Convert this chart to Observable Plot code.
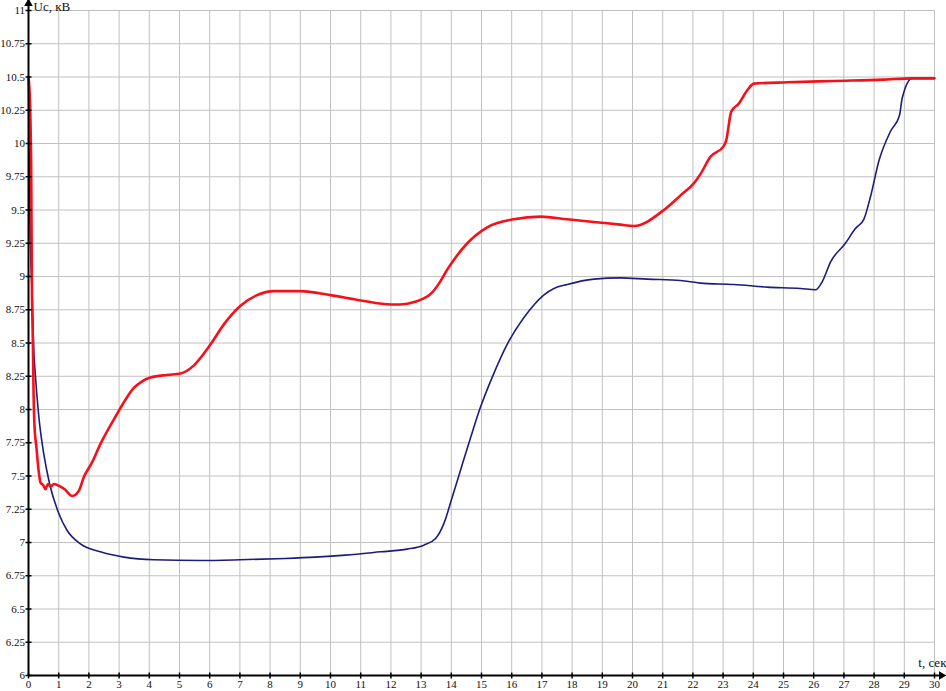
<!DOCTYPE html>
<html>
<head>
<meta charset="utf-8">
<script src="https://cdn.jsdelivr.net/npm/d3@7"></script>
<script src="https://cdn.jsdelivr.net/npm/@observablehq/plot@0.6"></script>
<style>
  html, body { margin: 0; padding: 0; background: #fff; }
  #chart svg { display: block; }
</style>
</head>
<body>
<div id="chart"></div>
<script>
// ---- data ----
const xTicks = d3.range(0, 31, 1);
const yTicks = [6, 6.25, 6.5, 6.75, 7, 7.25, 7.5, 7.75, 8, 8.25, 8.5, 8.75, 9, 9.25, 9.5, 9.75, 10, 10.25, 10.5, 10.75, 11];

const redT = [0, 0.05, 0.09, 0.11, 0.145, 0.17, 0.2, 0.26, 0.34, 0.4, 0.49, 0.56, 0.64, 0.73, 0.84, 1.06, 1.2, 1.45, 1.67, 1.83, 2.1, 2.38, 2.94, 3.2, 3.48, 3.75, 4.04, 4.59, 5.03, 5.47, 6.03, 6.47, 7.02, 7.57, 8.12, 9.0, 10.0, 11.0, 12.0, 12.3, 12.8, 13.37, 13.6, 13.86, 14.1, 14.53, 15.19, 16.07, 16.95, 17.84, 18.72, 19.6, 20.04, 21.04, 21.59, 22.03, 22.25, 22.58, 23.02, 23.1, 23.27, 23.52, 23.8, 24.02, 25.12, 26.66, 28.3, 29.26, 30];
const redU = [10.5, 10.3, 9.77, 9.0, 8.5, 8.1, 7.87, 7.72, 7.53, 7.45, 7.43, 7.4, 7.44, 7.42, 7.44, 7.42, 7.4, 7.35, 7.39, 7.49, 7.6, 7.74, 7.97, 8.07, 8.16, 8.21, 8.24, 8.26, 8.27, 8.33, 8.49, 8.64, 8.78, 8.86, 8.89, 8.89, 8.86, 8.82, 8.79, 8.79, 8.81, 8.88, 8.95, 9.05, 9.13, 9.25, 9.37, 9.43, 9.45, 9.43, 9.41, 9.39, 9.38, 9.5, 9.61, 9.7, 9.77, 9.9, 9.98, 10.02, 10.24, 10.3, 10.4, 10.45, 10.46, 10.47, 10.48, 10.49, 10.49];

const blueT = [0, 0.01, 0.04, 0.12, 0.18, 0.22, 0.34, 0.51, 0.7, 1.0, 1.28, 1.72, 2.38, 3.16, 4.15, 5.7, 7.0, 8.5, 9.5, 10.5, 11.66, 12.54, 13.09, 13.48, 13.75, 14.03, 14.3, 14.64, 14.97, 15.35, 15.85, 16.4, 16.75, 17.06, 17.4, 17.84, 18.72, 19.6, 20.49, 21.59, 22.25, 23.36, 24.46, 25.56, 26.06, 26.28, 26.56, 27.05, 27.38, 27.66, 27.88, 28.16, 28.54, 28.84, 28.93, 29.26, 30];
const blueU = [10.5, 10.17, 9.5, 8.87, 8.42, 8.28, 7.95, 7.66, 7.44, 7.22, 7.09, 6.99, 6.93, 6.89, 6.87, 6.865, 6.87, 6.88, 6.89, 6.905, 6.93, 6.95, 6.98, 7.03, 7.14, 7.34, 7.54, 7.79, 8.02, 8.24, 8.49, 8.69, 8.79, 8.86, 8.91, 8.94, 8.98, 8.99, 8.98, 8.97, 8.95, 8.94, 8.92, 8.91, 8.9, 8.96, 9.11, 9.25, 9.36, 9.43, 9.6, 9.87, 10.09, 10.21, 10.34, 10.49, 10.49];

const xLabel = "t, сек";
const yLabel = "Uc, кВ";

// ---- build ----
const red = redT.map((t, i) => ({t, u: redU[i]}));
const blue = blueT.map((t, i) => ({t, u: blueU[i]}));

const xMin = 0, xMax = 30, yMin = 6, yMax = 11;
const xTip = xMax + 0.33;   // axis arrow overshoot
const yTip = yMax + 0.075;

const hDash = {draw(ctx, size) { const h = Math.sqrt(size / Math.PI); ctx.moveTo(-h, 0); ctx.lineTo(h, 0); }};
const vDash = {draw(ctx, size) { const h = Math.sqrt(size / Math.PI); ctx.moveTo(0, -h); ctx.lineTo(0, h); }};

const chart = Plot.plot({
  width: 946,
  height: 691,
  marginLeft: 28,
  marginRight: 12,
  marginTop: 10,
  marginBottom: 16,
  style: {fontFamily: "'Liberation Serif', 'DejaVu Serif', serif", fontSize: "11px", background: "#fff", overflow: "visible"},
  x: {domain: [xMin, xMax]},
  y: {domain: [yMin, yMax]},
  marks: [
    Plot.gridX(xTicks.filter(d => d > xMin), {stroke: "#c0c0c0", strokeOpacity: 1, strokeWidth: 1}),
    Plot.gridY(yTicks.filter(d => d > yMin), {stroke: "#c0c0c0", strokeOpacity: 1, strokeWidth: 1}),
    Plot.axisY({ticks: yTicks, tickSize: 0, tickPadding: 3.5, tickFormat: d => String(d), label: null, fill: "#111"}),
    Plot.axisX({ticks: xTicks, tickSize: 0, tickPadding: 5, tickFormat: d => String(d), label: null, fill: "#111"}),
    Plot.line(blue, {x: "t", y: "u", stroke: "#1c1c7c", strokeWidth: 1.6, curve: "monotone-x"}),
    Plot.line(red, {x: "t", y: "u", stroke: "#f5101a", strokeWidth: 2.6, curve: "monotone-x"}),
    Plot.ruleX([xMin], {y1: yMin, y2: yTip, stroke: "#000", strokeWidth: 2}),
    Plot.ruleY([yMin], {x1: xMin, x2: xTip, stroke: "#000", strokeWidth: 2}),
    Plot.dot(yTicks, {x: xMin, y: d => d, symbol: hDash, r: 3, stroke: "#000", strokeWidth: 1.5, fill: "none"}),
    Plot.dot(xTicks, {x: d => d, y: yMin, symbol: vDash, r: 3, stroke: "#000", strokeWidth: 1.5, fill: "none"}),
    Plot.dot([[xMin, yTip]], {x: d => d[0], y: d => d[1], symbol: "triangle", r: 3.2, fill: "#000", stroke: null, dy: 3}),
    Plot.dot([[xTip, yMin]], {x: d => d[0], y: d => d[1], symbol: "triangle", r: 3.2, fill: "#000", stroke: null, rotate: 90, dx: -3}),
    Plot.text([yLabel], {x: xMin, y: yTip, text: d => d, textAnchor: "start", dx: 5, dy: 6, fontSize: 13, fill: "#111"}),
    Plot.text([xLabel], {x: xTip, y: yMin, text: d => d, textAnchor: "end", dx: 2, dy: -13, fontSize: 13, fill: "#111"})
  ]
});
document.getElementById("chart").appendChild(chart);
</script>
</body>
</html>
